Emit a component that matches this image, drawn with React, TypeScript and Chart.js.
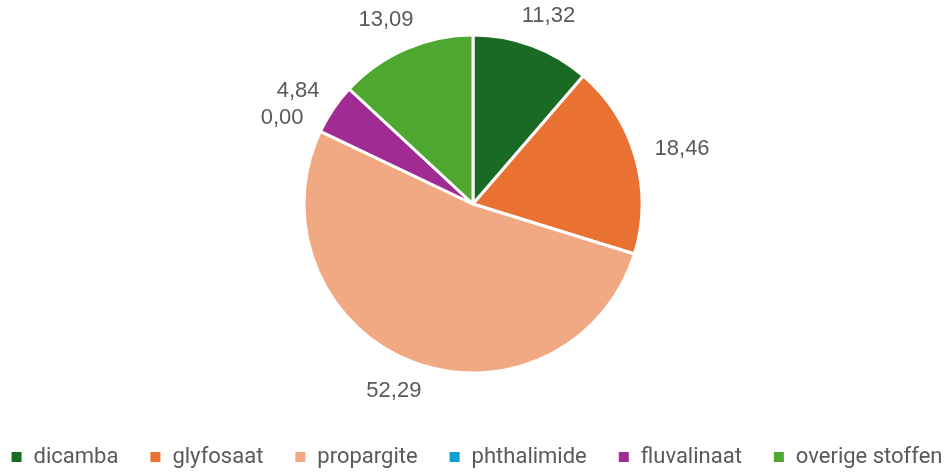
import React, { useEffect, useRef } from "react";
import { Chart, registerables } from "chart.js";

Chart.register(...registerables);

const categories = ["dicamba", "glyfosaat", "propargite", "phthalimide", "fluvalinaat", "overige stoffen"];
const values = [11.32, 18.46, 52.29, 0.0, 4.84, 13.09];
const colors = ["#196B24", "#E97132", "#F1A983", "#0F9ED5", "#A02B93", "#4EA72E"];

const LABEL_FONT = "22px 'Liberation Sans', Arial, sans-serif";
const LEGEND_FONT = "22px Roboto, 'Noto Sans', sans-serif";
const TEXT_COLOR = "#595959";

const fmt = (v: number) => v.toFixed(2).replace(".", ",");

const dataLabelPlugin = {
  id: "outsideLabels",
  afterDatasetsDraw(chart: any) {
    const ctx = chart.ctx;
    const meta = chart.getDatasetMeta(0);
    ctx.save();
    ctx.font = LABEL_FONT;
    ctx.fillStyle = TEXT_COLOR;
    ctx.textAlign = "center";
    ctx.textBaseline = "middle";
    meta.data.forEach((arc: any, i: number) => {
      const p = arc.getProps(["x", "y", "startAngle", "endAngle", "outerRadius"], true);
      const mid = (p.startAngle + p.endAngle) / 2;
      const text = fmt(values[i]);
      const w = ctx.measureText(text).width;
      const h = 22;
      const r = p.outerRadius + 21;
      const cx = p.x + Math.cos(mid) * r + Math.cos(mid) * w / 2;
      const cy = p.y + Math.sin(mid) * r + Math.sin(mid) * h / 2;
      ctx.fillText(text, cx, cy);
    });
    ctx.restore();
  },
};

const legendPlugin = {
  id: "bottomLegend",
  afterDraw(chart: any) {
    const ctx = chart.ctx;
    ctx.save();
    ctx.font = LEGEND_FONT;
    const box = 10;
    const boxGap = 12;
    const itemGap = 32;
    const widths = categories.map((c) => box + boxGap + ctx.measureText(c).width);
    const total = widths.reduce((a, b) => a + b, 0) + itemGap * (categories.length - 1);
    let x = (chart.width - total) / 2 + 2;
    const y = 457;
    ctx.textBaseline = "middle";
    ctx.textAlign = "left";
    categories.forEach((c, i) => {
      ctx.fillStyle = colors[i];
      ctx.fillRect(x, y - box / 2, box, box);
      ctx.fillStyle = TEXT_COLOR;
      ctx.fillText(c, x + box + boxGap, y);
      x += widths[i] + itemGap;
    });
    ctx.restore();
  },
};

export default function App() {
  const ref = useRef<HTMLCanvasElement>(null);
  useEffect(() => {
    if (!ref.current) return;
    const chart = new Chart(ref.current, {
      type: "pie",
      data: {
        labels: categories,
        datasets: [
          {
            data: values,
            backgroundColor: colors,
            borderColor: "#ffffff",
            borderWidth: 3,
            hoverOffset: 0,
          },
        ],
      },
      options: {
        responsive: false,
        animation: false,
        radius: 169,
        layout: { padding: { top: 34, bottom: 98, left: 0, right: 4 } },
        plugins: {
          legend: { display: false },
          tooltip: { enabled: false },
        },
      } as any,
      plugins: [dataLabelPlugin, legendPlugin],
    });
    return () => chart.destroy();
  }, []);
  return (
    <div style={{ position: "fixed", left: 0, top: 0, width: 950, height: 472, background: "#fff" }}>
      <canvas ref={ref} width={950} height={472} />
    </div>
  );
}
